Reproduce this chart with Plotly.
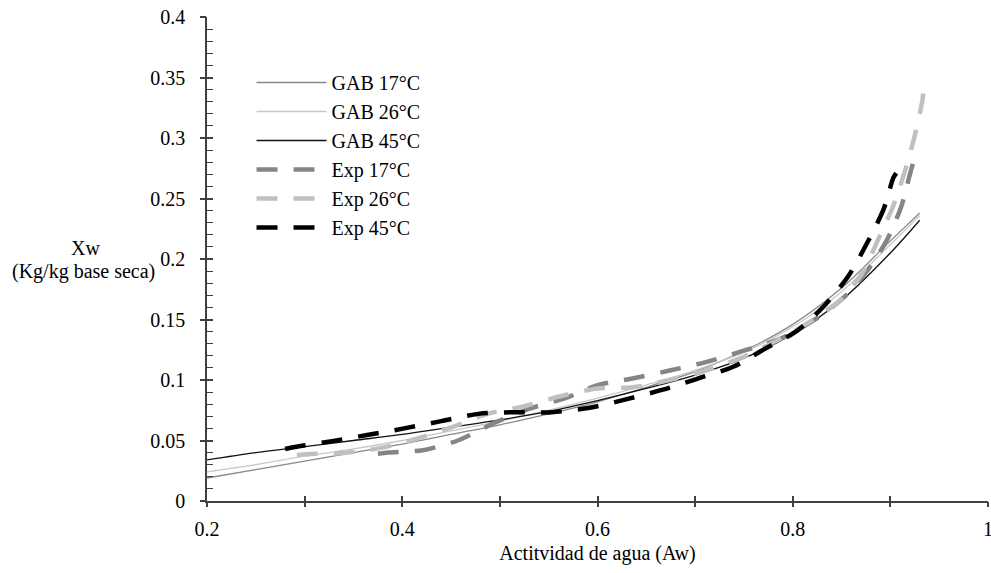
import plotly.graph_objects as go

# GAB model curves
aw_gab = [0.2, 0.25, 0.3, 0.35, 0.4, 0.45, 0.5, 0.55, 0.6, 0.65, 0.7, 0.75, 0.8, 0.85, 0.9, 0.93]
gab17 = [0.019, 0.026, 0.033, 0.040, 0.047, 0.055, 0.063, 0.072, 0.082, 0.094, 0.107, 0.124, 0.146, 0.176, 0.215, 0.238]
gab26 = [0.024, 0.030, 0.037, 0.043, 0.050, 0.058, 0.066, 0.075, 0.085, 0.096, 0.108, 0.123, 0.144, 0.173, 0.212, 0.236]
gab45 = [0.034, 0.040, 0.045, 0.050, 0.055, 0.061, 0.067, 0.074, 0.083, 0.093, 0.104, 0.118, 0.138, 0.166, 0.205, 0.232]

# Experimental curves
exp17_aw = [0.375, 0.386, 0.421, 0.457, 0.493, 0.529, 0.567, 0.600, 0.637, 0.675, 0.712, 0.749, 0.787, 0.821, 0.852, 0.876, 0.896, 0.911, 0.920, 0.925]
exp17_xw = [0.039, 0.040, 0.042, 0.050, 0.064, 0.076, 0.085, 0.0957, 0.1015, 0.108, 0.115, 0.124, 0.134, 0.149, 0.168, 0.190, 0.215, 0.243, 0.270, 0.284]

exp26_aw = [0.292, 0.304, 0.339, 0.377, 0.413, 0.451, 0.487, 0.523, 0.562, 0.600, 0.636, 0.674, 0.711, 0.749, 0.787, 0.821, 0.850, 0.871, 0.888, 0.903, 0.915, 0.925, 0.933, 0.934]
exp26_xw = [0.038, 0.0388, 0.0396, 0.0437, 0.051, 0.061, 0.072, 0.078, 0.0866, 0.093, 0.094, 0.100, 0.108, 0.119, 0.134, 0.150, 0.167, 0.188, 0.217, 0.244, 0.273, 0.302, 0.332, 0.340]

exp45_aw = [0.280, 0.290, 0.328, 0.364, 0.402, 0.440, 0.478, 0.516, 0.553, 0.592, 0.629, 0.667, 0.702, 0.739, 0.772, 0.805, 0.833, 0.857, 0.876, 0.893, 0.903, 0.906]
exp45_xw = [0.043, 0.0446, 0.0495, 0.0545, 0.060, 0.066, 0.072, 0.0734, 0.0734, 0.077, 0.084, 0.092, 0.101, 0.111, 0.126, 0.141, 0.162, 0.186, 0.213, 0.241, 0.267, 0.271]

x_ticks = [0.2, 0.4, 0.6, 0.8, 1.0]
x_ticktext = ["0.2", "0.4", "0.6", "0.8", "1"]

FONT = "Liberation Serif"
DASH = "21px,16px"

fig = go.Figure()
fig.add_trace(go.Scatter(x=aw_gab, y=gab17, mode="lines", name="GAB 17°C",
                         line=dict(color="#888888", width=1.3, shape="spline")))
fig.add_trace(go.Scatter(x=aw_gab, y=gab26, mode="lines", name="GAB 26°C",
                         line=dict(color="#c8c8c8", width=1.3, shape="spline")))
fig.add_trace(go.Scatter(x=aw_gab, y=gab45, mode="lines", name="GAB 45°C",
                         line=dict(color="#111111", width=1.3, shape="spline")))
fig.add_trace(go.Scatter(x=exp17_aw, y=exp17_xw, mode="lines", name="Exp 17°C",
                         line=dict(color="#858585", width=4.5, dash=DASH, shape="spline", smoothing=0.8)))
fig.add_trace(go.Scatter(x=exp26_aw, y=exp26_xw, mode="lines", name="Exp 26°C",
                         line=dict(color="#c0c0c0", width=4.5, dash=DASH, shape="spline", smoothing=0.8)))
fig.add_trace(go.Scatter(x=exp45_aw, y=exp45_xw, mode="lines", name="Exp 45°C",
                         line=dict(color="#000000", width=4.5, dash=DASH, shape="spline", smoothing=0.8)))
# invisible helper trace so the overlay axes (outer halves of the major ticks) are drawn
fig.add_trace(go.Scatter(x=[0.5], y=[0.2], xaxis="x2", yaxis="y2", mode="markers",
                         marker=dict(opacity=0, size=1), showlegend=False, hoverinfo="skip"))

axcol = "#404040"
tickfont = dict(family=FONT, size=20, color="#000000")
fig.update_layout(
    width=991, height=573,
    margin=dict(l=207, r=3, t=17, b=72, autoexpand=False),
    paper_bgcolor="white", plot_bgcolor="white",
    font=dict(family=FONT, size=20, color="#000000"),
    showlegend=True,
    legend=dict(x=0.057, y=0.905, xanchor="left", yanchor="top",
                bgcolor="rgba(0,0,0,0)", font=dict(family=FONT, size=20),
                itemwidth=70, tracegroupgap=0),
    xaxis=dict(range=[0.2, 1.0], tickvals=x_ticks, ticktext=x_ticktext, tickfont=tickfont,
               showgrid=False, zeroline=False, showline=True, linecolor=axcol, linewidth=1.5,
               ticks="inside", ticklen=5, tickcolor=axcol, tickwidth=1.5,
               minor=dict(dtick=0.1, tick0=0.2, ticks="inside", ticklen=5, tickcolor=axcol, tickwidth=1.5, showgrid=False),
               ticklabelstandoff=9, ticklabeloverflow="allow",
               title=dict(text="Actitvidad de agua (Aw)", font=dict(family=FONT, size=20), standoff=7)),
    yaxis=dict(range=[0, 0.4], dtick=0.05, tick0=0, tickfont=tickfont,
               showgrid=False, zeroline=False, showline=True, linecolor=axcol, linewidth=1.5,
               ticks="inside", ticklen=6, tickcolor=axcol, tickwidth=1.5,
               minor=dict(dtick=0.01, tick0=0, ticks="inside", ticklen=6, tickcolor=axcol, tickwidth=1.3, showgrid=False),
               ticklabelstandoff=16, ticklabeloverflow="allow"),
    xaxis2=dict(range=[0.2, 1.0], overlaying="x", anchor="y2", side="bottom", dtick=0.1, tick0=0.2,
                showgrid=False, zeroline=False, showline=False, showticklabels=False,
                ticks="outside", ticklen=5, tickcolor=axcol, tickwidth=1.5),
    yaxis2=dict(range=[0, 0.4], overlaying="y", anchor="x2", side="left", dtick=0.05, tick0=0,
                showgrid=False, zeroline=False, showline=False, showticklabels=False,
                ticks="outside", ticklen=6, tickcolor=axcol, tickwidth=1.5),
)

fig.add_annotation(text="Xw", xref="paper", yref="paper", x=-0.155, y=0.522,
                   xanchor="center", yanchor="middle", showarrow=False,
                   font=dict(family=FONT, size=20))
fig.add_annotation(text="(Kg/kg base seca)", xref="paper", yref="paper", x=-0.158, y=0.474,
                   xanchor="center", yanchor="middle", showarrow=False,
                   font=dict(family=FONT, size=20))

fig.write_html("out.html")
